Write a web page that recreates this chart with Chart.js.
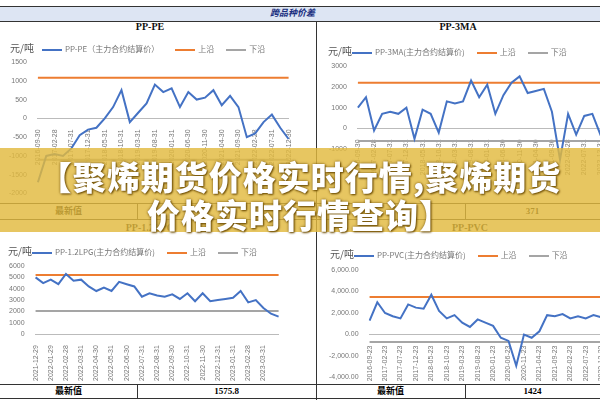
<!DOCTYPE html>
<html><head><meta charset="utf-8">
<script src="https://cdn.jsdelivr.net/npm/chart.js@4"></script>
<style>
body{margin:0;width:600px;height:400px;overflow:hidden;background:#fff;font-family:"Noto Sans CJK SC",sans-serif;position:relative}
.abs{position:absolute}
.t{font-family:"Liberation Serif",serif;font-weight:bold;font-size:10px;color:#111;text-align:center}
.cell{position:absolute;font-family:"Noto Sans CJK SC";font-weight:bold;font-size:9px;text-align:center;line-height:14px}
.lg{position:absolute;font-size:8px;color:#777;white-space:nowrap}
.lg b{display:inline-block;width:20px;height:2px;vertical-align:middle;margin:0 3px 0 8px}
.lg span.u{font-size:10px;color:#555}
.hl{position:absolute;height:1px;background:#333}
.vl{position:absolute;width:1px;background:#333}
#banner{position:absolute;left:0;top:148px;width:600px;height:84px;background:rgba(226,186,62,0.82)}
.bt{position:absolute;width:600px;text-align:center;color:#fff;font-weight:900;font-size:33px;font-family:"Noto Sans CJK SC";text-shadow:0 0 3px #7a5a10,1px 1px 2px #6a4a00;letter-spacing:1px}
</style></head><body>
<div class="abs" style="left:0;top:6px;width:600px;height:14px;background:#dde5f3;border-top:1px solid #333;border-bottom:1px solid #333"></div>
<div class="abs" style="left:270px;top:6px;font-size:9px;font-weight:bold;color:#1a2f80;font-style:italic">跨品种价差</div>
<div class="vl" style="left:316px;top:21px;height:379px"></div>
<div class="t abs" style="left:0;top:21px;width:300px">PP-PE</div>
<div class="t abs" style="left:316px;top:21px;width:284px">PP-3MA</div>
<div class="abs" style="left:0;top:34px;width:300px;height:166px"><canvas id="c1"></canvas></div>
<div class="abs" style="left:318px;top:34px;width:310px;height:166px"><canvas id="c2"></canvas></div>
<div class="hl" style="left:0;top:203px;width:600px"></div>
<div class="hl" style="left:0;top:219px;width:600px"></div>
<div class="vl" style="left:137px;top:203px;height:16px"></div>
<div class="vl" style="left:465px;top:203px;height:16px"></div>
<div class="cell" style="left:0;top:204px;width:137px">最新值</div>
<div class="cell" style="left:465px;top:204px;width:135px;font-family:'Liberation Serif'">371</div>
<div class="t abs" style="left:0;top:222px;width:300px">PP-1.2LPG</div>
<div class="t abs" style="left:450px;top:222px;width:40px">PP-PVC</div>
<div class="abs" style="left:0;top:236px;width:290px;height:148px"><canvas id="c3"></canvas></div>
<div class="abs" style="left:318px;top:236px;width:310px;height:148px"><canvas id="c4"></canvas></div>
<div class="hl" style="left:0;top:384px;width:600px"></div>
<div class="hl" style="left:0;top:398px;width:600px"></div>
<div class="vl" style="left:137px;top:384px;height:14px"></div>
<div class="vl" style="left:465px;top:384px;height:14px"></div>
<div class="cell" style="left:0;top:384px;width:137px">最新值</div>
<div class="cell" style="left:137px;top:384px;width:179px;font-family:'Liberation Serif'">1575.8</div>
<div class="cell" style="left:316px;top:384px;width:149px">最新值</div>
<div class="cell" style="left:465px;top:384px;width:135px;font-family:'Liberation Serif'">1424</div>
<div class="lg" style="left:10px;top:40px"><span class="u">元/吨</span><b style="background:#4472c4"></b>PP-PE（主力合约结算价）<b style="background:#ed7d31;margin-left:16px"></b>上沿<b style="background:#a5a5a5;margin-left:12px"></b>下沿</div>
<div class="lg" style="left:328px;top:43px"><span class="u">元/吨</span><b style="background:#4472c4;margin-left:0"></b>PP-3MA(主力合约结算价)<b style="background:#ed7d31;margin-left:12px"></b>上沿<b style="background:#a5a5a5;margin-left:12px"></b>下沿</div>
<div class="lg" style="left:8px;top:243px"><span class="u">元/吨</span><b style="background:#4472c4;margin-left:0"></b>PP-1.2LPG(主力合约结算价)<b style="background:#ed7d31;margin-left:12px"></b>上沿<b style="background:#a5a5a5;margin-left:12px"></b>下沿</div>
<div class="lg" style="left:330px;top:246px"><span class="u">元/吨</span><b style="background:#4472c4;margin-left:0"></b>PP-PVC(主力合约结算价)<b style="background:#ed7d31;margin-left:12px"></b>上沿<b style="background:#a5a5a5;margin-left:12px"></b>下沿</div>
<div id="banner"></div>
<div class="bt" style="top:152px">【聚烯期货价格实时行情,聚烯期货</div>
<div class="bt" style="top:190px">价格实时行情查询】</div>
<script>
const peTicks = ["2016-09-30","2017-02-28","2017-07-31","2017-12-31","2018-05-31","2018-10-31","2019-03-31","2019-08-31","2020-01-31","2020-06-30","2020-11-30","2021-04-30","2021-09-30","2022-02-28","2022-07-31","2022-12-30"];
const peValues = [-1700,-1000,-950,-1000,-800,-450,-300,-250,0,300,750,-100,150,400,900,700,800,300,700,500,550,750,350,600,300,-500,-400,-100,100,-250,-550];
const peUpper = 1080, peLower = -1100;

const maTicks = ["2016-09-30","2017-02-28","2017-07-31","2017-12-31","2018-05-31","2018-10-31","2019-03-31","2019-08-31","2020-01-31","2020-06-30","2020-11-30","2021-04-30","2021-09-30","2022-02-28","2022-07-31","2022-12-31","2023-05-31"];
const maValues = [1000,1500,-100,700,800,700,1000,-500,900,700,-200,1300,1200,1300,2300,1500,2100,700,1600,2200,2500,1700,1800,1900,800,-1500,700,-300,600,700,-300,200,100];
const maUpper = 2200, maLower = -600;

const lpgTicks = ["2021-12-29","2022-01-29","2022-02-28","2022-03-31","2022-04-30","2022-05-31","2022-06-30","2022-07-31","2022-08-31","2022-09-30","2022-10-31","2022-11-30","2022-12-31","2023-01-31","2023-02-28","2023-03-31"];
const lpgValues = [5000,4500,4800,4400,5300,4700,4800,4200,3800,4100,3800,4600,4400,4200,3300,3600,3400,3300,3500,3100,3600,2900,3600,2900,3000,3100,3200,3800,2800,3000,2300,1800,1550];
const lpgUpper = 5200, lpgLower = 2050;

const pvcTicks = ["2016-09-23","2017-02-23","2017-07-23","2017-12-23","2018-05-23","2018-10-23","2019-03-23","2019-08-23","2020-01-23","2020-06-23","2020-11-23","2021-04-23","2021-09-23","2022-02-23","2022-07-23","2022-12-23","2023-05-23"];
const pvcValues = [1300,3000,2000,1700,1500,2800,2500,2400,3700,2200,1500,1800,1100,700,1400,1100,800,-300,-600,-2900,0,-300,300,1800,1700,1900,1500,1700,1500,1800,1600,1400,1500];
const pvcUpper = 3500, pvcLower = -700;

function labelsFor(ticks, n){
  const out = [];
  for (let i = 0; i < n; i++) out.push(i % 2 === 0 ? (ticks[i/2] || "") : "");
  return out;
}

function makeChart(id, name, ticks, values, upper, lower, yMin, yMax, step, fmt, xAtZero, pad){
  const labels = labelsFor(ticks, values.length);
  new Chart(document.getElementById(id), {
    type: 'line',
    data: {
      labels,
      datasets: [
        {label: name, data: values, borderColor: '#4472c4', borderWidth: 2, pointRadius: 0},
        {label: '上沿', data: values.map(() => upper), borderColor: '#ed7d31', borderWidth: 2, pointRadius: 0},
        {label: '下沿', data: values.map(() => lower), borderColor: '#a5a5a5', borderWidth: 2, pointRadius: 0}
      ]
    },
    options: {
      animation: false, responsive: true, maintainAspectRatio: false,
      layout: {padding: pad},
      plugins: {legend: {display: false}, tooltip: {enabled: false}},
      scales: {
        x: {position: xAtZero ? {y: 0} : 'bottom', grid: {display: false}, border: {color: '#bbb'},
            ticks: {autoSkip: false, maxRotation: 90, minRotation: 90, font: {size: 7}, color: '#777',
                    callback: function(v){ return labels[v]; }}},
        y: {min: yMin, max: yMax, grid: {display: false}, border: {display: false},
            ticks: {stepSize: step, maxTicksLimit: 20, autoSkip: false, autoSkipPadding: 0,
                    font: {size: 7, lineHeight: 1}, color: '#777', callback: fmt}}
      }
    }
  });
}

const plain = v => String(v);
makeChart('c1', 'PP-PE（主力合约结算价）', peTicks, peValues, peUpper, peLower, -2000, 1500, 500, plain, true, {top: 28, bottom: 6, left: 6, right: 6});
makeChart('c2', 'PP-3MA(主力合约结算价)', maTicks, maValues, maUpper, maLower, -2000, 3000, 1000, plain, true, {top: 32, bottom: 30, left: 8, right: 0});
makeChart('c3', 'PP-1.2LPG(主力合约结算价)', lpgTicks, lpgValues, lpgUpper, lpgLower, 0, 6000, 1000, plain, false, {top: 30, bottom: 0, left: 6, right: 6});
makeChart('c4', 'PP-PVC(主力合约结算价)', pvcTicks, pvcValues, pvcUpper, pvcLower, -4000, 6000, 2000,
  v => v.toLocaleString('en-US', {minimumFractionDigits: 2}), true, {top: 34, bottom: 4, left: 8, right: 0});
</script>
</body></html>
